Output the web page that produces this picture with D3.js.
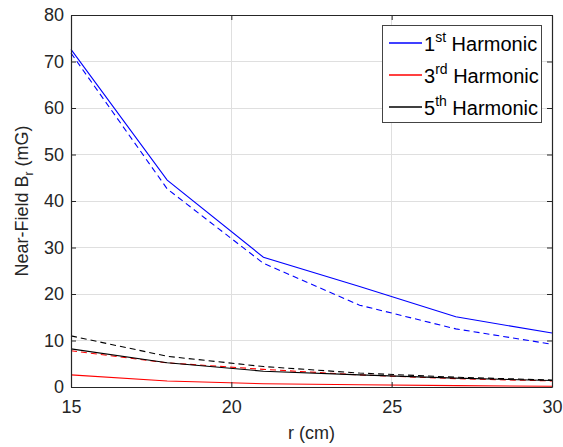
<!DOCTYPE html>
<html><head><meta charset="utf-8">
<script src="https://cdn.jsdelivr.net/npm/d3@7"></script>
<style>body{margin:0;background:#fff}svg{display:block;font-family:"Liberation Sans",Arial,sans-serif}</style>
</head><body><svg id="c" width="563" height="447"></svg>
<script>
const r = [15, 18, 21, 24, 27, 30];
const h1Solid = [72.6, 44.5, 27.9, 21.6, 15.1, 11.6];
const h1Dashed = [71.8, 42.6, 26.6, 17.6, 12.5, 9.2];
const h3Solid = [2.6, 1.3, 0.7, 0.5, 0.3, 0.15];
const h3Dashed = [7.8, 5.2, 3.8, 2.6, 1.8, 1.3];
const h5Solid = [8.2, 5.2, 3.4, 2.6, 1.9, 1.4];
const h5Dashed = [11.0, 6.6, 4.4, 3.0, 2.1, 1.5];
const xTicks = [15, 20, 25, 30];
const yTicks = [0, 10, 20, 30, 40, 50, 60, 70, 80];
const legendLabels = [["1", "st"], ["3", "rd"], ["5", "th"]];
const colors = ["#0000ff", "#ff0000", "#000000"];

const svg = d3.select("#c");
const L = 71, R = 552, T = 15, B = 387;
const x = d3.scaleLinear().domain([15, 30]).range([L, R]);
const y = d3.scaleLinear().domain([0, 80]).range([B, T]);
const txt = "#262626";
const FONT = '"Liberation Sans",Arial,sans-serif';

// grid
svg.append("g").selectAll("line").data(xTicks.slice(1, -1)).join("line")
  .attr("x1", d => x(d)).attr("x2", d => x(d)).attr("y1", T).attr("y2", B)
  .attr("stroke", "#dfdfdf").attr("stroke-width", 1).attr("shape-rendering", "crispEdges");
svg.append("g").selectAll("line").data(yTicks.slice(1, -1)).join("line")
  .attr("y1", d => y(d)).attr("y2", d => y(d)).attr("x1", L).attr("x2", R)
  .attr("stroke", "#dfdfdf").attr("stroke-width", 1).attr("shape-rendering", "crispEdges");

// lines
const line = d3.line().x((d, i) => x(r[i])).y(d => y(d));
const series = [
  [h1Solid, 0, false], [h1Dashed, 0, true],
  [h3Solid, 1, false], [h3Dashed, 1, true],
  [h5Solid, 2, false], [h5Dashed, 2, true]
];
series.forEach(([vals, ci, dashed]) => {
  svg.append("path").attr("d", line(vals)).attr("fill", "none")
    .attr("stroke", colors[ci]).attr("stroke-width", 1.1)
    .attr("stroke-dasharray", dashed ? "6,4" : null);
});

// axes
const axB = d3.axisBottom(x).tickValues(xTicks).tickSizeInner(-5).tickSizeOuter(0).tickPadding(13);
const axL = d3.axisLeft(y).tickValues(yTicks).tickSizeInner(-5).tickSizeOuter(0).tickPadding(7);
const axT = d3.axisTop(x).tickValues(xTicks).tickSizeInner(-5).tickSizeOuter(0).tickFormat("");
const axR = d3.axisRight(y).tickValues(yTicks).tickSizeInner(-5).tickSizeOuter(0).tickFormat("");
function style(g) {
  g.selectAll("path").attr("stroke", txt).attr("stroke-width", 1.2);
  g.selectAll("line").attr("stroke", txt);
  g.selectAll("text").attr("fill", txt).style("font-size", "18px").style("font-family", FONT);
}
svg.append("g").attr("transform", `translate(0,${B})`).call(axB).call(style);
svg.append("g").attr("transform", `translate(${L},0)`).call(axL).call(style);
svg.append("g").attr("transform", `translate(0,${T})`).call(axT).call(style);
svg.append("g").attr("transform", `translate(${R},0)`).call(axR).call(style);

// axis labels
svg.append("text").attr("x", (L + R) / 2).attr("y", 439).attr("text-anchor", "middle")
  .attr("fill", txt).style("font-size", "18px").text("r (cm)");
const yl = svg.append("text").attr("transform", `translate(28,${(T + B) / 2}) rotate(-90)`)
  .attr("text-anchor", "middle").attr("fill", txt).style("font-size", "18px");
yl.append("tspan").text("Near-Field B");
yl.append("tspan").attr("dy", 5).style("font-size", "12px").text("r");
yl.append("tspan").attr("dy", -5).text(" (mG)");

// legend
const lg = svg.append("g");
lg.append("rect").attr("x", 382.5).attr("y", 25.5).attr("width", 159).attr("height", 97)
  .attr("fill", "#fff").attr("stroke", "#444").attr("stroke-width", 1);
legendLabels.forEach((lab, i) => {
  const yy = 43 + i * 32;
  lg.append("line").attr("x1", 389).attr("x2", 422).attr("y1", yy).attr("y2", yy)
    .attr("stroke", colors[i]).attr("stroke-width", 1.5);
  const t = lg.append("text").attr("x", 424).attr("y", yy + 8).attr("fill", "#000").style("font-size", "20px");
  t.append("tspan").text(lab[0]);
  t.append("tspan").attr("dy", -9).style("font-size", "14px").text(lab[1]);
  t.append("tspan").attr("dy", 9).text(" Harmonic");
});
</script></body></html>
